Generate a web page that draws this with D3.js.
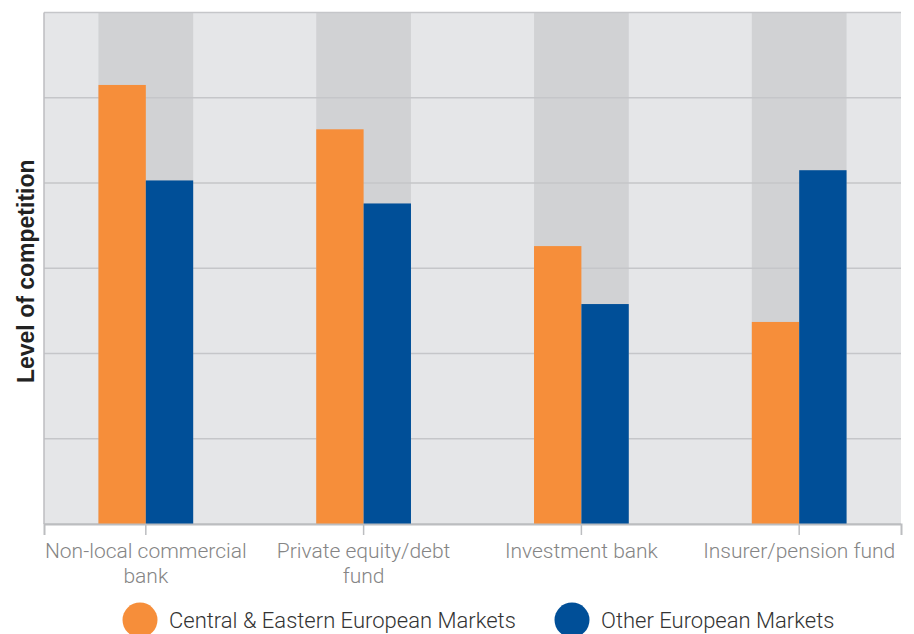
<!DOCTYPE html>
<html>
<head>
<meta charset="utf-8">
<script src="https://cdn.jsdelivr.net/npm/d3@7"></script>
<style>
  body { margin: 0; background: #fff; }
  svg { display: block; }
</style>
</head>
<body>
<svg id="chart"></svg>
<script>
const width = 914;
const height = 634;

// data
const categories = ["Non-local commercial bank", "Private equity/debt fund", "Investment bank", "Insurer/pension fund"];
const categoryLines = [["Non-local commercial", "bank"], ["Private equity/debt", "fund"], ["Investment bank"], ["Insurer/pension fund"]];
const seriesNames = ["Central & Eastern European Markets", "Other European Markets"];
const ceeValues = [5.15, 4.63, 3.26, 2.37];
const otherValues = [4.03, 3.76, 2.58, 4.15];
const gridTicks = [0, 1, 2, 3, 4, 5, 6];

const colors = ["#f68e3a", "#004f98"];

const margin = { top: 12.5, right: 13, bottom: 110, left: 44 };
const plotW = width - margin.left - margin.right;
const plotH = height - margin.top - margin.bottom;

const svg = d3.select("#chart").attr("width", width).attr("height", height);
const g = svg.append("g").attr("transform", `translate(${margin.left},${margin.top})`);

const x = d3.scaleBand().domain(categories).range([0, plotW]).paddingInner(0.565).paddingOuter(0.25);
const sub = d3.scaleBand().domain(seriesNames).range([0, x.bandwidth()]);
const y = d3.scaleLinear().domain([0, 6]).range([plotH, 0]);

// background
g.append("rect")
    .attr("width", plotW)
    .attr("height", plotH)
    .attr("fill", "#e5e6e8");

// darker band behind each group
g.selectAll(".band")
    .data(categories)
    .join("rect")
    .attr("class", "band")
    .attr("x", d => x(d))
    .attr("y", 0)
    .attr("width", x.bandwidth())
    .attr("height", plotH)
    .attr("fill", "#d1d2d4");

// gridlines
g.selectAll(".grid")
    .data(gridTicks)
    .join("line")
    .attr("class", "grid")
    .attr("x1", 0)
    .attr("x2", plotW)
    .attr("y1", d => y(d))
    .attr("y2", d => y(d))
    .attr("stroke", "#c5c6c9")
    .attr("stroke-width", 1.5);

// bars
const rows = categories.map((c, i) => ({ cat: c, vals: [ceeValues[i], otherValues[i]] }));
const groups = g.selectAll(".grp")
    .data(rows)
    .join("g")
    .attr("class", "grp")
    .attr("transform", d => `translate(${x(d.cat)},0)`);

groups.selectAll("rect")
    .data(d => d.vals.map((v, j) => ({ name: seriesNames[j], v: v, j: j })))
    .join("rect")
    .attr("x", d => sub(d.name))
    .attr("y", d => y(d.v))
    .attr("width", sub.bandwidth())
    .attr("height", d => plotH - y(d.v))
    .attr("fill", d => colors[d.j]);

// left axis line
g.append("line")
    .attr("x1", 0).attr("x2", 0)
    .attr("y1", 0).attr("y2", plotH)
    .attr("stroke", "#bcbdc0")
    .attr("stroke-width", 1.5);

// x axis
const xAxis = g.append("g")
    .attr("transform", `translate(0,${plotH})`)
    .call(d3.axisBottom(x).tickSize(11).tickFormat(""));
xAxis.select(".domain").attr("stroke", "#bcbdc0").attr("stroke-width", 2);
xAxis.selectAll(".tick line").attr("stroke", "#bcbdc0").attr("stroke-width", 1.5);

xAxis.selectAll(".tick")
    .append("text")
    .attr("fill", "#858585")
    .attr("text-anchor", "middle")
    .style("font-family", "Roboto, 'Liberation Sans', sans-serif")
    .style("font-weight", 300)
    .style("font-size", "21px")
    .each(function(d, i) {
        const t = d3.select(this);
        categoryLines[i].forEach((line, k) => {
            t.append("tspan")
                .attr("x", 0)
                .attr("y", 34 + k * 25)
                .text(line);
        });
    });

// y axis title
svg.append("text")
    .attr("transform", `translate(34,${margin.top + plotH / 2 + 3}) rotate(-90)`)
    .attr("text-anchor", "middle")
    .attr("fill", "#222")
    .style("font-family", "'Liberation Sans', Arial, sans-serif")
    .style("font-weight", "bold")
    .style("font-size", "23px")
    .text("Level of competition");

// legend
const legendX = [140, 572];
const legend = svg.selectAll(".legend")
    .data(seriesNames)
    .join("g")
    .attr("class", "legend")
    .attr("transform", (d, i) => `translate(${legendX[i]},620)`);

legend.append("circle")
    .attr("r", 17.5)
    .attr("fill", (d, i) => colors[i]);

legend.append("text")
    .attr("x", 29)
    .attr("y", 8)
    .attr("fill", "#333")
    .style("font-family", "Roboto, 'Liberation Sans', sans-serif")
    .style("font-weight", 300)
    .style("font-size", "22px")
    .text(d => d);
</script>
</body>
</html>
